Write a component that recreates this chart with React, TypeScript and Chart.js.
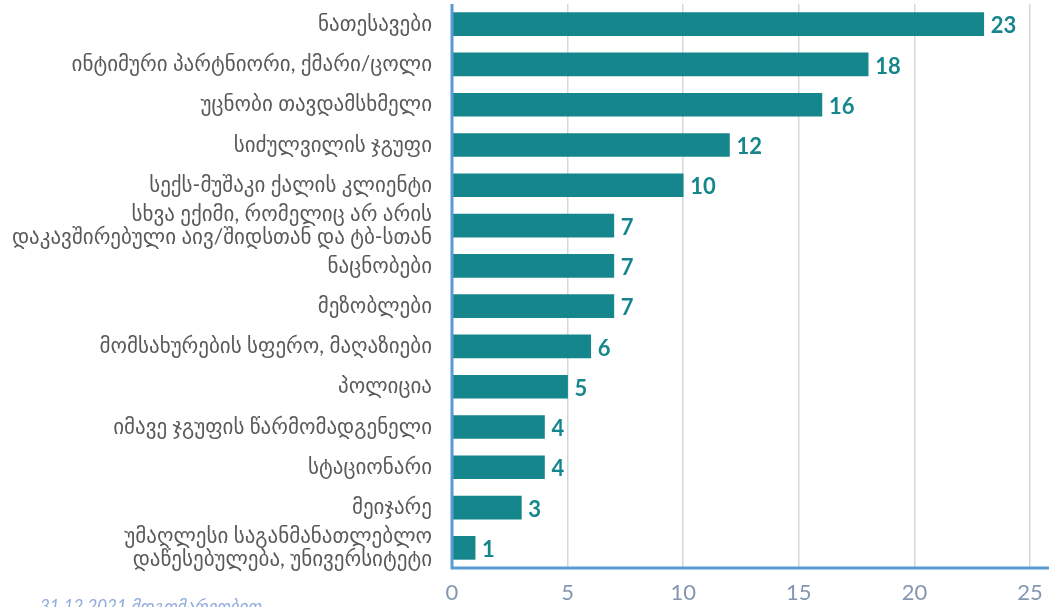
import React, { useEffect, useRef } from "react";
import { Chart, registerables } from "chart.js";

Chart.register(...registerables);

const categories: (string | string[])[] = [
  "ნათესავები",
  "ინტიმური პარტნიორი, ქმარი/ცოლი",
  "უცნობი თავდამსხმელი",
  "სიძულვილის ჯგუფი",
  "სექს-მუშაკი ქალის კლიენტი",
  ["სხვა ექიმი, რომელიც არ არის", "დაკავშირებული აივ/შიდსთან და ტბ-სთან"],
  "ნაცნობები",
  "მეზობლები",
  "მომსახურების სფერო, მაღაზიები",
  "პოლიცია",
  "იმავე ჯგუფის წარმომადგენელი",
  "სტაციონარი",
  "მეიჯარე",
  ["უმაღლესი საგანმანათლებლო", "დაწესებულება, უნივერსიტეტი"],
];

const values: number[] = [23, 18, 16, 12, 10, 7, 7, 7, 6, 5, 4, 4, 3, 1];

const xTicks: number[] = [0, 5, 10, 15, 20, 25];

const footnote = "31.12.2021 მდგომარეობით";

const BAR = "#15878C";
const AXIS = "#5B9BD5";
const FONT = "Lato, 'DejaVu Sans', sans-serif";

const valueLabels = {
  id: "valueLabels",
  afterDatasetsDraw(chart: any) {
    const ctx = chart.ctx;
    const meta = chart.getDatasetMeta(0);
    ctx.save();
    ctx.fillStyle = BAR;
    ctx.font = `bold 22px ${FONT}`;
    ctx.textAlign = "left";
    ctx.textBaseline = "middle";
    meta.data.forEach((el: any, i: number) => {
      ctx.fillText(String(values[i]), el.x + 7, el.y + 2);
    });
    ctx.restore();
  },
};

const axisExtend = {
  id: "axisExtend",
  afterDraw(chart: any) {
    const { ctx, chartArea } = chart;
    ctx.save();
    ctx.strokeStyle = AXIS;
    ctx.lineWidth = 3;
    ctx.beginPath();
    ctx.moveTo(chartArea.left - 1.5, chartArea.bottom);
    ctx.lineTo(chart.width, chartArea.bottom);
    ctx.moveTo(chartArea.left, chartArea.top);
    ctx.lineTo(chartArea.left, chartArea.bottom);
    ctx.stroke();
    ctx.restore();
  },
};

export default function App() {
  const ref = useRef<HTMLCanvasElement | null>(null);

  useEffect(() => {
    if (!ref.current) return;
    const chart = new Chart(ref.current, {
      type: "bar",
      data: {
        labels: categories,
        datasets: [
          {
            data: values,
            backgroundColor: BAR,
            barThickness: 23,
          },
        ],
      },
      plugins: [valueLabels, axisExtend],
      options: {
        indexAxis: "y",
        animation: false,
        responsive: true,
        maintainAspectRatio: false,
        layout: { padding: { left: 0, right: 19, top: 4, bottom: 0 } },
        plugins: {
          legend: { display: false },
          tooltip: { enabled: false },
        },
        scales: {
          x: {
            min: 0,
            max: 25,
            afterBuildTicks: (scale: any) => {
              scale.ticks = xTicks.map((v) => ({ value: v }));
            },
            afterFit: (scale: any) => {
              scale.height = 39;
              scale.paddingLeft = 0;
              scale.paddingRight = 0;
            },
            grid: {
              color: "#D3D8DF",
              lineWidth: 1.5,
              drawTicks: false,
            },
            border: { display: false },
            ticks: {
              color: "#8497B0",
              font: { family: FONT, size: 22 },
              padding: 12,
            },
          },
          y: {
            afterFit: (scale: any) => {
              scale.width = 452;
              scale.paddingTop = 0;
              scale.paddingBottom = 0;
            },
            grid: { display: false, drawTicks: false },
            border: { display: false },
            ticks: {
              color: "#595959",
              font: { family: FONT, size: 21, lineHeight: 1.1 },
              padding: 20,
              autoSkip: false,
            },
          },
        },
      },
    });
    return () => chart.destroy();
  }, []);

  return (
    <div
      style={{
        position: "fixed",
        left: 0,
        top: 0,
        width: 1049,
        height: 607,
        overflow: "hidden",
        background: "#fff",
      }}
    >
      <canvas ref={ref} />
      <div
        style={{
          position: "absolute",
          left: 40,
          top: 595,
          fontFamily: FONT,
          fontStyle: "italic",
          fontSize: 17,
          color: "#8FAADC",
          whiteSpace: "nowrap",
        }}
      >
        {footnote}
      </div>
    </div>
  );
}
